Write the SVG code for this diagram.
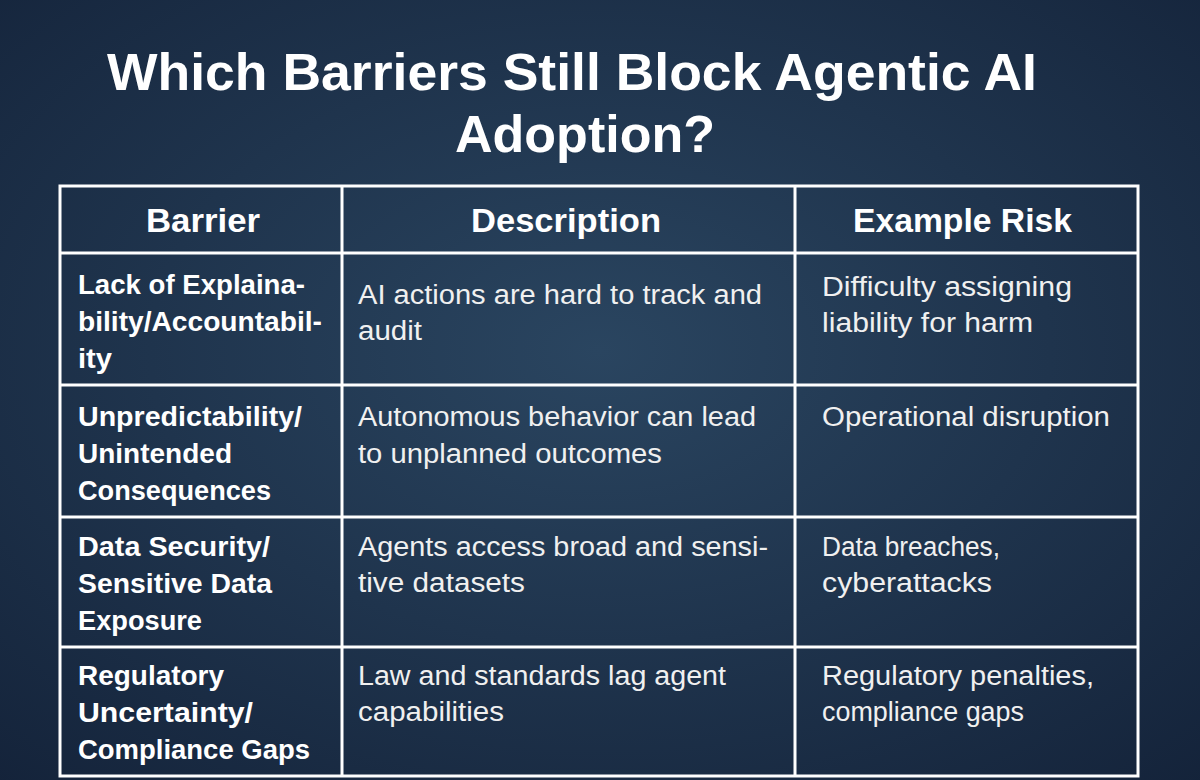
<svg xmlns="http://www.w3.org/2000/svg" width="1200" height="780" viewBox="0 0 1200 780">
<defs>
<radialGradient id="bg" cx="50%" cy="45%" r="75%">
<stop offset="0" stop-color="#2a4560"/>
<stop offset="1" stop-color="#14233a"/>
</radialGradient>
<style>
text{font-family:"Liberation Sans",Arial,sans-serif;fill:#fff}
.t{font-weight:bold;font-size:52px}
.h{font-size:34px;font-weight:bold}
.b{font-size:27px;font-weight:bold}
.d{fill:#f0f0f0;font-size:27px}
.ln{stroke:#fff;stroke-width:3;fill:none}
</style>
</defs>
<rect width="1200" height="780" fill="url(#bg)"/>
<g id="title">
<text class="t" x="107" y="90" textLength="930" lengthAdjust="spacingAndGlyphs">Which Barriers Still Block Agentic AI</text>
<text class="t" x="455" y="152" textLength="260" lengthAdjust="spacingAndGlyphs">Adoption?</text>
</g>
<g id="grid">
<rect class="ln" x="60" y="186" width="1078" height="590"/>
<path class="ln" d="M342 186V776M795 186V776M60 253H1138M60 385H1138M60 517H1138M60 647H1138"/>
</g>
<g id="header">
<text class="h" x="146" y="232" textLength="114" lengthAdjust="spacingAndGlyphs">Barrier</text>
<text class="h" x="471" y="232" textLength="190" lengthAdjust="spacingAndGlyphs">Description</text>
<text class="h" x="853" y="232" textLength="219" lengthAdjust="spacingAndGlyphs">Example Risk</text>
</g>
<g id="row1">
<text class="b" x="78" y="294" textLength="227" lengthAdjust="spacingAndGlyphs">Lack of Explaina-</text>
<text class="b" x="78" y="331" textLength="244" lengthAdjust="spacingAndGlyphs">bility/Accountabil-</text>
<text class="b" x="78" y="368" textLength="34" lengthAdjust="spacingAndGlyphs">ity</text>
<text class="d" x="358" y="304" textLength="404" lengthAdjust="spacingAndGlyphs">AI actions are hard to track and</text>
<text class="d" x="358" y="340" textLength="64" lengthAdjust="spacingAndGlyphs">audit</text>
<text class="d" x="822" y="296" textLength="250" lengthAdjust="spacingAndGlyphs">Difficulty assigning</text>
<text class="d" x="822" y="332" textLength="211" lengthAdjust="spacingAndGlyphs">liability for harm</text>
</g>
<g id="row2">
<text class="b" x="78" y="426" textLength="224" lengthAdjust="spacingAndGlyphs">Unpredictability/</text>
<text class="b" x="78" y="463" textLength="154" lengthAdjust="spacingAndGlyphs">Unintended</text>
<text class="b" x="78" y="500" textLength="193" lengthAdjust="spacingAndGlyphs">Consequences</text>
<text class="d" x="358" y="426" textLength="398" lengthAdjust="spacingAndGlyphs">Autonomous behavior can lead</text>
<text class="d" x="358" y="463" textLength="304" lengthAdjust="spacingAndGlyphs">to unplanned outcomes</text>
<text class="d" x="822" y="426" textLength="288" lengthAdjust="spacingAndGlyphs">Operational disruption</text>
</g>
<g id="row3">
<text class="b" x="78" y="556" textLength="192" lengthAdjust="spacingAndGlyphs">Data Security/</text>
<text class="b" x="78" y="593" textLength="194" lengthAdjust="spacingAndGlyphs">Sensitive Data</text>
<text class="b" x="78" y="630" textLength="124" lengthAdjust="spacingAndGlyphs">Exposure</text>
<text class="d" x="358" y="556" textLength="410" lengthAdjust="spacingAndGlyphs">Agents access broad and sensi-</text>
<text class="d" x="358" y="592" textLength="167" lengthAdjust="spacingAndGlyphs">tive datasets</text>
<text class="d" x="822" y="556" textLength="178" lengthAdjust="spacingAndGlyphs">Data breaches,</text>
<text class="d" x="822" y="592" textLength="170" lengthAdjust="spacingAndGlyphs">cyberattacks</text>
</g>
<g id="row4">
<text class="b" x="78" y="685" textLength="146" lengthAdjust="spacingAndGlyphs">Regulatory</text>
<text class="b" x="78" y="722" textLength="175" lengthAdjust="spacingAndGlyphs">Uncertainty/</text>
<text class="b" x="78" y="759" textLength="232" lengthAdjust="spacingAndGlyphs">Compliance Gaps</text>
<text class="d" x="358" y="685" textLength="368" lengthAdjust="spacingAndGlyphs">Law and standards lag agent</text>
<text class="d" x="358" y="721" textLength="146" lengthAdjust="spacingAndGlyphs">capabilities</text>
<text class="d" x="822" y="685" textLength="272" lengthAdjust="spacingAndGlyphs">Regulatory penalties,</text>
<text class="d" x="822" y="721" textLength="202" lengthAdjust="spacingAndGlyphs">compliance gaps</text>
</g>
</svg>
